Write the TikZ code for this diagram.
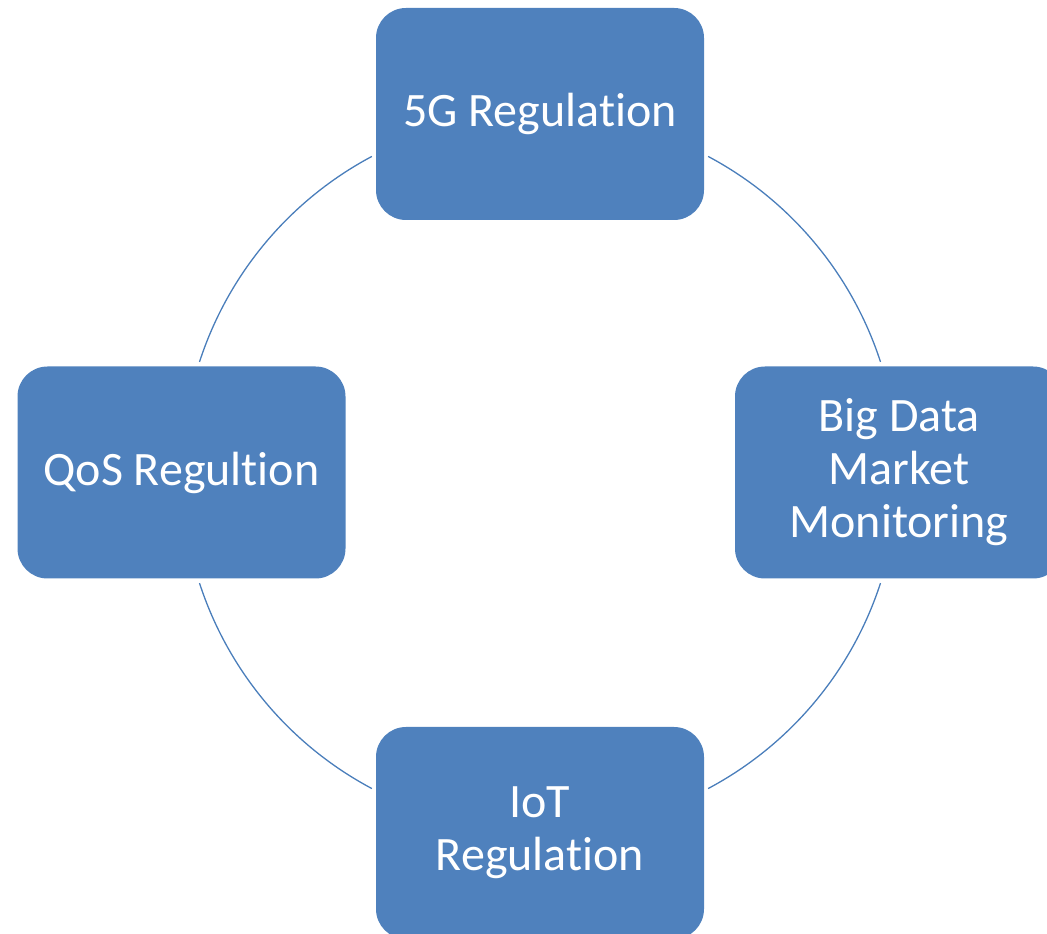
\documentclass[tikz,border=0pt]{standalone}
\usepackage{fontspec}
\setmainfont{Carlito}[Ligatures={NoCommon,NoContextual},RawFeature={-liga;-clig;-calt}]
\definecolor{boxblue}{HTML}{4F81BD}
\definecolor{linkblue}{HTML}{4A7EBB}
\begin{document}
\begin{tikzpicture}[x=1pt,y=1pt,
  topic/.style={fill=boxblue, draw=none, rounded corners=30pt,
    minimum width=328pt, minimum height=212pt, inner sep=0pt,
    text=white, align=center, font=\fontsize{48}{53}\selectfont},
  link/.style={draw=linkblue, line width=1.3pt}]
\useasboundingbox (0,0) rectangle (1047,934);
\clip (0,0) rectangle (1047,934);
\coordinate (c) at (540,461.5);
\node[topic] (top) at (540,820) {5G Regulation};
\node[topic] (left) at (181.5,461.5) {QoS Regultion};
\node[topic] (right) at (899,461.5) {Big Data\\Market\\Monitoring};
\node[topic] (bottom) at (540,101) {IoT\\Regulation};
\draw[link] (c) ++(118:358) arc[start angle=118, end angle=162, radius=358];
\draw[link] (c) ++(18:358) arc[start angle=18, end angle=62, radius=358];
\draw[link] (c) ++(198:358) arc[start angle=198, end angle=242, radius=358];
\draw[link] (c) ++(298:358) arc[start angle=298, end angle=342, radius=358];
\end{tikzpicture}
\end{document}
